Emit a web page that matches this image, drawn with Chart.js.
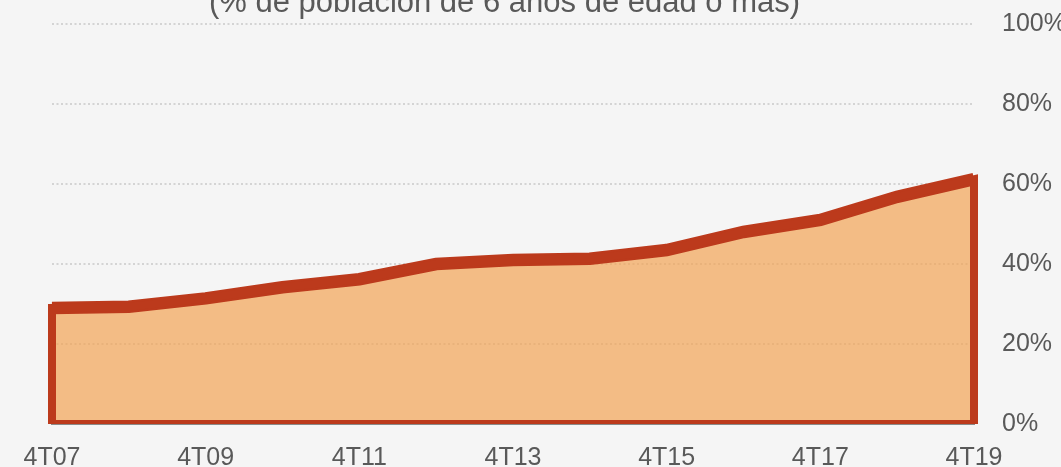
<!DOCTYPE html>
<html>
<head>
<meta charset="utf-8">
<script src="https://cdn.jsdelivr.net/npm/chart.js@4.4.1/dist/chart.umd.min.js"></script>
<style>
  html, body { margin: 0; padding: 0; background: #f5f5f5; overflow: hidden; }
  #wrap { position: relative; width: 1061px; height: 467px; }
  #titulo {
    position: absolute; left: 0; top: -14px; width: 1009px;
    text-align: center; line-height: 1;
    font-family: "Liberation Sans", sans-serif;
    font-size: 31px; color: #595959; white-space: nowrap;
  }
</style>
</head>
<body>
<div id="wrap">
  <div id="titulo">(% de población de 6 años de edad o más)</div>
  <canvas id="grafico"></canvas>
</div>
<script>
// trimestres (4º trimestre de cada año)
const categorias = ["4T07", "4T08", "4T09", "4T10", "4T11", "4T12", "4T13",
                    "4T14", "4T15", "4T16", "4T17", "4T18", "4T19"];
// % de población
const valores = [29.0, 29.3, 31.4, 34.2, 36.2, 40.0, 41.0, 41.3, 43.5, 48.0, 51.0, 56.8, 61.2];
const ticksY = [0, 20, 40, 60, 80, 100];

const rojo = "#bc3a1c";
const fuente = "'Liberation Sans', sans-serif";

// contorno cerrado del área (lado izq., línea, lado der., base)
const n = categorias.length;
const contorno = [{ x: categorias[0], y: 0 }]
    .concat(valores.map((v, i) => ({ x: categorias[i], y: v })))
    .concat([{ x: categorias[n - 1], y: 0 }, { x: categorias[0], y: 0 }]);

const ctx = document.getElementById("grafico").getContext("2d");
new Chart(ctx, {
    type: "line",
    data: {
        labels: categorias,
        datasets: [
            {
                data: contorno,
                borderColor: rojo,
                borderWidth: 8,
                borderJoinStyle: "miter",
                borderCapStyle: "square",
                fill: false,
                pointRadius: 0,
                tension: 0
            },
            {
                data: valores,
                borderColor: rojo,
                borderWidth: 12.5,
                borderJoinStyle: "miter",
                backgroundColor: "rgba(242, 164, 86, 0.7)",
                fill: "origin",
                pointRadius: 0,
                tension: 0
            }
        ]
    },
    options: {
        responsive: true,
        maintainAspectRatio: false,
        animation: false,
        layout: { autoPadding: false, padding: { left: 52, right: 0, top: 24, bottom: 0 } },
        plugins: { legend: { display: false }, tooltip: { enabled: false } },
        scales: {
            x: {
                z: 1,
                grid: { display: false, drawTicks: false },
                border: { display: true, color: "#8a8a8a", width: 2 },
                ticks: {
                    autoSkip: false,
                    maxRotation: 0,
                    padding: 19,
                    color: "#595959",
                    font: { family: fuente, size: 25 },
                    callback: function (val, i) { return i % 2 === 0 ? categorias[i] : ""; }
                },
                afterFit: function (s) { s.height = 43; }
            },
            y: {
                position: "right",
                min: 0,
                max: 100,
                afterBuildTicks: function (s) { s.ticks = ticksY.map(v => ({ value: v })); },
                grid: { color: "#d4d4d4", lineWidth: 2, drawTicks: false },
                border: { display: false, dash: [2, 2.5] },
                ticks: {
                    padding: 28,
                    color: "#595959",
                    font: { family: fuente, size: 25 },
                    callback: v => v + "%"
                },
                afterFit: function (s) {
                    s.width = 87;
                    s.paddingTop = 0;
                    s.paddingBottom = 0;
                }
            }
        }
    }
});
</script>
</body>
</html>
